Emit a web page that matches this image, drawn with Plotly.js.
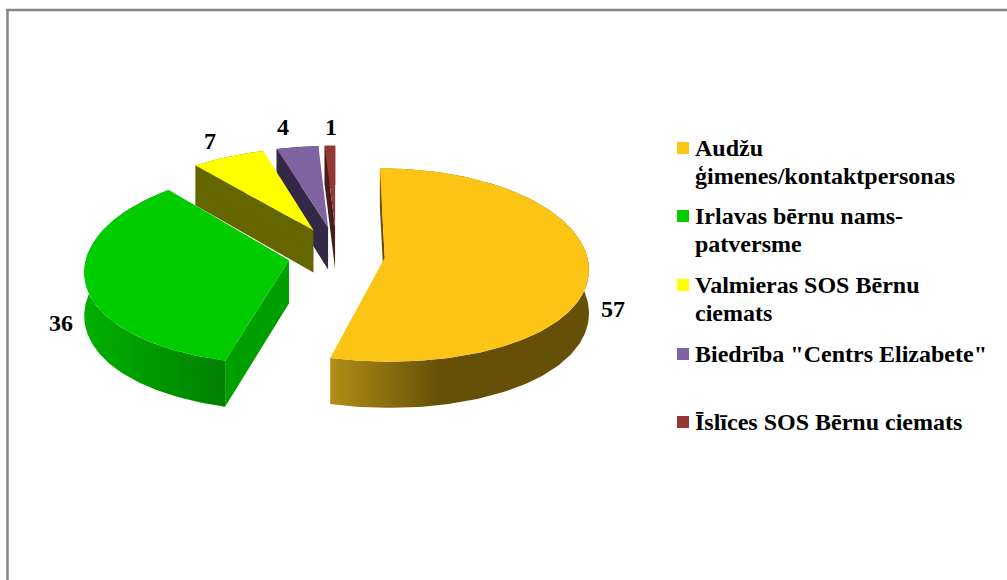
<!DOCTYPE html>
<html><head><meta charset="utf-8">
<script src="https://cdn.plot.ly/plotly-3.0.1.min.js"></script>
<style>html,body{margin:0;padding:0;background:#fff;overflow:hidden}#c{width:1007px;height:580px}</style>
</head><body><div id="c"></div>
<script>
const categories = ['Audžu<br>ģimenes/kontaktpersonas','Irlavas bērnu nams-<br>patversme','Valmieras SOS Bērnu<br>ciemats','Biedrība "Centrs Elizabete"','Īslīces SOS Bērnu ciemats'];
const values = [57,36,7,4,1];

const topColors = ['#FCC516','#00CC00','#FFFF00','#8064A2','#953735'];
const radialWall = ['#6A5008','#009F00','#666600','#332845','#4A1C1A'];
const rimFrom = ['#B08E16','#00B000','#666600','#332845','#4A1C1A'];
const rimTo = ['#665008','#007F00','#666600','#332845','#4A1C1A'];
const labelX = [613,61,210,283,331];
const labelY = [309,323,141,127,127];
const legendY = [148,216,285,354,422];
const LINE_GAP = 28;

const FONT = '"Liberation Serif","Times New Roman",serif';
const total = values.reduce((a,b)=>a+b,0);
const TAU = Math.PI*2;
function project(U,V){
  const dV = V-0.04;
  return [336.5+U*202*(1+0.1*V), 258+99.8*dV+7.2*dV*dV-3*dV*dV*dV];
}
function depth(V){return 43+3*V;}
let traces = [];
let acc = 0;
const slices = values.map((v,i)=>{
  const a0 = acc/total*TAU; acc += v; const a1 = acc/total*TAU;
  return {i,a0,a1,mid:(a0+a1)/2};
});
function geom(s){
  const eU = 0.24*Math.sin(s.mid), eV = -0.28*Math.cos(s.mid);
  const pt=(th,r)=>{const U=eU+r*Math.sin(th),V=eV-r*Math.cos(th);const p=project(U,V);return {x:p[0],y:p[1],yb:p[1]+depth(V)};};
  const n=Math.max(6,Math.ceil((s.a1-s.a0)/0.02));
  const arc=[];for(let k=0;k<=n;k++)arc.push(pt(s.a0+(s.a1-s.a0)*k/n,1));
  return {apex:pt(0,0),arc};
}
function poly(xs,ys,color,extra){
  return Object.assign({type:'scatter',mode:'lines',x:xs,y:ys,fill:'toself',fillcolor:color,line:{width:0},hoverinfo:'skip',showlegend:false},extra||{});
}
[4,3,2,1,0].forEach(i=>{
  const s=slices[i], g=geom(s), c=g.arc, A=g.apex, e=c[0];
  // outer rim
  traces.push(poly(c.map(p=>p.x).concat(c.slice().reverse().map(p=>p.x)),
                   c.map(p=>p.y).concat(c.slice().reverse().map(p=>p.yb)),rimTo[i],
                   {fillgradient:{type:'horizontal',colorscale:i===0?[[0,rimFrom[i]],[0.42,rimTo[i]],[1,rimTo[i]]]:[[0,rimFrom[i]],[1,rimTo[i]]]}}));
  // radial wall facing the viewer
  traces.push(poly([e.x,A.x,A.x,e.x],[e.y,A.y,A.yb,e.yb],radialWall[i]));
  // top face
  traces.push(poly([A.x].concat(c.map(p=>p.x),[A.x]),[A.y].concat(c.map(p=>p.y),[A.y]),topColors[i]));
});
traces.push({type:'scatter',mode:'markers',x:categories.map(()=>683),y:legendY,
  marker:{symbol:'square',size:12,color:topColors,line:{width:0}},hoverinfo:'skip',showlegend:false});

const annotations = values.map((v,i)=>({x:labelX[i],y:labelY[i],xref:'x',yref:'y',text:'<b>'+v+'</b>',showarrow:false,
    xanchor:'center',yanchor:'middle',font:{family:FONT,size:24,color:'#000'}}));
categories.forEach((c,i)=>{
  c.split('<br>').forEach((line,k)=>{
    annotations.push({x:693,y:legendY[i]-0.5+k*LINE_GAP,xref:'x',yref:'y',text:'<b>'+line+'</b>',showarrow:false,align:'left',
      xanchor:'left',yanchor:'middle',font:{family:FONT,size:24,color:'#000'}});
  });
});

const shapes = [
  {type:'line',xref:'x',yref:'y',x0:6,x1:1007,y0:10,y1:10,line:{color:'#868686',width:2.5},layer:'below'},
  {type:'line',xref:'x',yref:'y',x0:7.5,x1:7.5,y0:9,y1:580,line:{color:'#868686',width:2.5},layer:'below'}
];

Plotly.newPlot('c',traces,{
  width:1007,height:580,margin:{l:0,r:0,t:0,b:0},paper_bgcolor:'#fff',plot_bgcolor:'#fff',showlegend:false,
  xaxis:{range:[0,1007],visible:false,fixedrange:true},
  yaxis:{range:[580,0],visible:false,fixedrange:true},
  annotations,shapes
},{displayModeBar:false,staticPlot:true});
</script></body></html>
